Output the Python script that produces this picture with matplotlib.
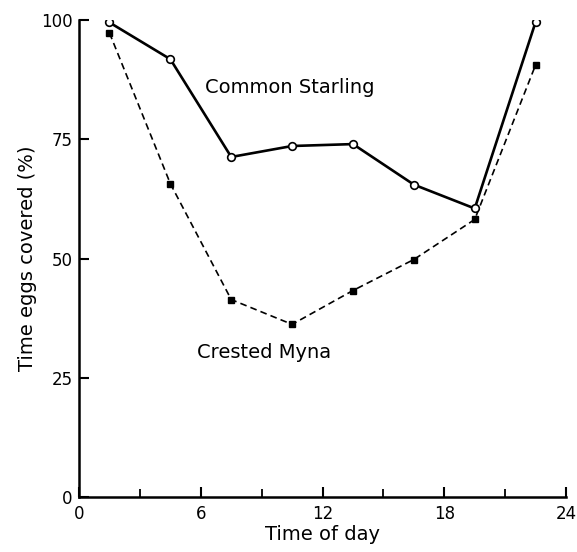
import matplotlib
matplotlib.use("Agg")
import matplotlib.pyplot as plt

# data
hours = [1.5, 4.5, 7.5, 10.5, 13.5, 16.5, 19.5, 22.5]
starling = [99.5, 91.8, 71.3, 73.6, 74.0, 65.5, 60.5, 99.6]
myna = [97.3, 65.7, 41.4, 36.2, 43.3, 49.8, 58.2, 90.6]

plt.rcParams["font.family"] = ["DejaVu Sans"]

fig = plt.figure(figsize=(5.77, 5.52), dpi=100)
ax = fig.add_axes([0.137, 0.0996, 0.844, 0.864])

ax.plot(hours, starling, color="black", lw=1.9, marker="o", ms=5.5,
        mfc="white", mec="black", mew=1.2, zorder=3)
ax.plot(hours, myna, color="black", lw=1.2, ls=(0, (4, 2.5)), marker="s",
        ms=4.8, mfc="black", mec="black", zorder=2)

ax.text(6.22, 84.7, "Common Starling", fontsize=14, ha="left", va="baseline")
ax.text(5.83, 29.1, "Crested Myna", fontsize=14, ha="left", va="baseline")

ax.set_xlim(0, 24)
ax.set_ylim(0, 100)
ax.set_xticks([0, 6, 12, 18, 24])
ax.set_xticks([3, 9, 15, 21], minor=True)
ax.set_yticks([0, 25, 50, 75, 100])
ax.tick_params(axis="both", direction="in", length=7, width=1.5,
               labelsize=12)
ax.tick_params(axis="x", pad=6)
ax.tick_params(axis="y", pad=4.5)
ax.tick_params(axis="x", which="minor", direction="in", length=6, width=1.3)

for side in ("top", "right"):
    ax.spines[side].set_visible(False)
for side in ("left", "bottom"):
    ax.spines[side].set_linewidth(1.8)

ax.set_xlabel("Time of day", fontsize=14, labelpad=1)
ax.set_ylabel("Time eggs covered (%)", fontsize=14, labelpad=3)

fig.savefig("out.png", dpi=100, facecolor="white")
